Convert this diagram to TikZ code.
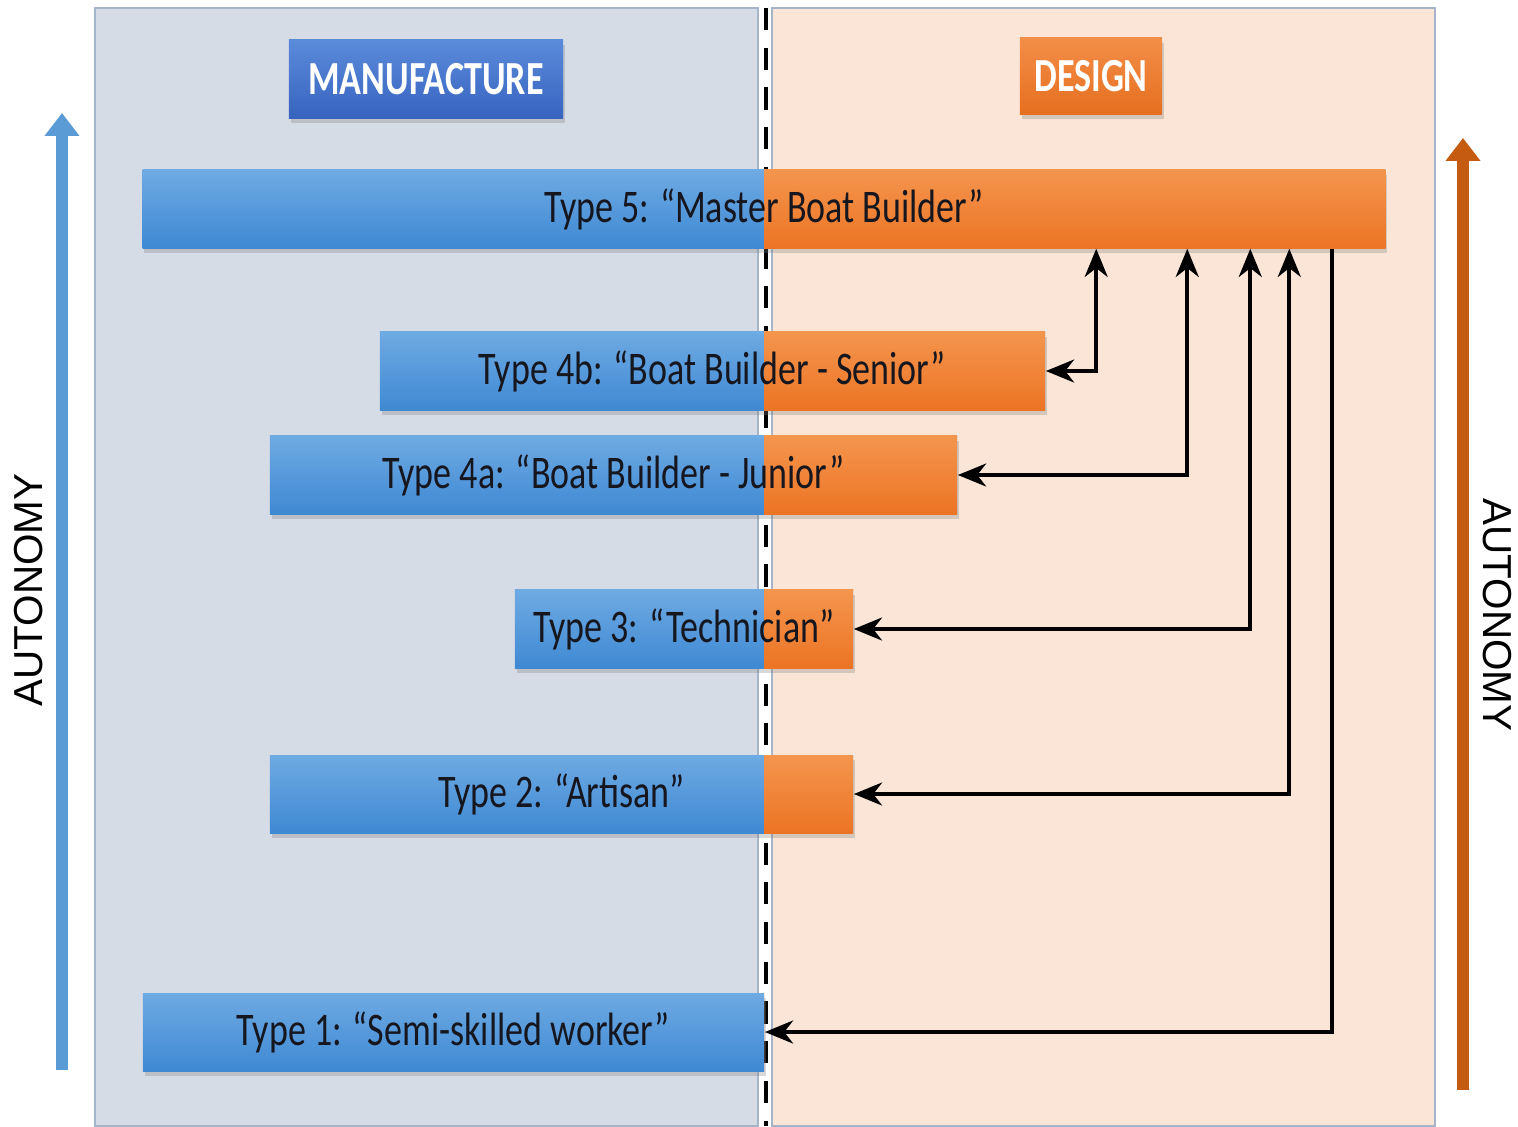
\documentclass[tikz,border=0pt]{standalone}
\usepackage{fontspec}
\usepackage{xcolor}
\usetikzlibrary{arrows.meta,calc,positioning,shadows}

\newfontfamily\barfont{Carlito}[FakeStretch=0.77]
\newfontfamily\headfont{Carlito}[FakeStretch=0.76]
\newfontfamily\sidefont{Liberation Sans}

\definecolor{panelL}{HTML}{D6DCE5}
\definecolor{panelR}{HTML}{FBE5D6}
\definecolor{panelEdge}{HTML}{A5B4C8}
\definecolor{blueTop}{HTML}{6EAAE3}
\definecolor{blueBot}{HTML}{3F89D3}
\definecolor{orgTop}{HTML}{F4954D}
\definecolor{orgBot}{HTML}{EC7424}
\definecolor{headBlueTop}{HTML}{5B8BDB}
\definecolor{headBlueBot}{HTML}{3763BF}
\definecolor{headOrgTop}{HTML}{F38E47}
\definecolor{headOrgBot}{HTML}{E66F20}
\definecolor{autoBlue}{HTML}{5B9BD5}
\definecolor{autoBrown}{HTML}{C55A11}
\definecolor{barText}{HTML}{16161F}

\begin{document}
\begin{tikzpicture}[x=0.01cm, y=-0.01cm,
    link/.style = {line width=1.2pt, >={Stealth[length=8pt,width=6.5pt,inset=2.5pt]}},
    autonomy/.style = {line width=3.4pt, -{Triangle[length=6.5pt,width=9.5pt]}}]
					\tikzset{bar/.style={inner sep=0pt, minimum height=0.78cm, top color=blueTop, bottom color=blueBot, text=barText,
							font=\barfont\fontsize{13.3}{15}\selectfont,
							drop shadow={opacity=0.3, shadow xshift=0.5pt, shadow yshift=-1.3pt},
							path picture={\shade[top color=orgTop, bottom color=orgBot] (mid |- path picture bounding box.north) rectangle (path picture bounding box.south east);}}}
					\tikzset{head/.style={inner sep=0pt, text=white, font=\headfont\bfseries\fontsize{13.5}{15}\selectfont,
							drop shadow={opacity=0.3, shadow xshift=0.6pt, shadow yshift=-1.4pt}}}

					\useasboundingbox[fill=white] (0,0) rectangle (1518,1126);

					% Panels
					\filldraw[fill=panelL, draw=panelEdge, thin] (95,8) rectangle (758,1126);
					\filldraw[fill=panelR, draw=panelEdge, thin] (772,8) rectangle (1435,1126);
					\draw[line width=1.3pt, dash pattern=on 6.3pt off 5pt] (766,8) -- (766,1126);
					\coordinate (mid) at (764,0);

					% Types
					\node[bar, minimum width=12.42cm] (bar5) at (764,209) {Type 5: “Master Boat Builder”};
					\node[bar, minimum width=6.65cm] (bar4b) at (712.5,371) {Type 4b: “Boat Builder - Senior”};
					\node[bar, minimum width=6.87cm] (bar4a) at (613.5,475) {Type 4a: “Boat Builder - Junior”};
					\node[bar, minimum width=3.38cm] (bar3) at (684,629) {Type 3: “Technician”};
					\node[bar, minimum width=5.83cm] (bar2) at (561.5,794) {Type 2: “Artisan”};
					\node[bar, minimum width=6.21cm] (bar1) at (453.5,1032) {Type 1: “Semi-skilled worker”};

					% Links
					\draw[link,<->] (bar4b.east) -| ([xshift=3.32cm]bar5.south);
					\draw[link,<->] (bar4a.east) -| ([xshift=4.23cm]bar5.south);
					\draw[link,<->] (bar3.east) -| ([xshift=4.86cm]bar5.south);
					\draw[link,<->] (bar2.east) -| ([xshift=5.25cm]bar5.south);
					\draw[link,->] ([xshift=5.68cm]bar5.south) |- (bar1.east);

					% Headers
					\node[head, minimum width=2.74cm, minimum height=0.78cm, top color=headBlueTop, bottom color=headBlueBot] (manu) at (426,79) {MANUFACTURE};
					\node[head, minimum width=1.42cm, minimum height=0.76cm, top color=headOrgTop, bottom color=headOrgBot] (design) at (1091,76) {DESIGN};

					% Autonomy
					\coordinate (lowL) at (62,1070);
					\coordinate (topL) at (62,113);
					\coordinate (lowR) at (1463,1090);
					\coordinate (topR) at (1463,138);
					\draw[autonomy, autoBlue] (lowL) -- (topL);
					\draw[autonomy, autoBrown] (lowR) -- (topR);
					\node[rotate=90, font=\sidefont\fontsize{11.5}{13}\selectfont] (autoL) at (29,590) {AUTONOMY};
					\node[rotate=-90, font=\sidefont\fontsize{11.5}{13}\selectfont] (autoR) at (1497,615) {AUTONOMY};

				\end{tikzpicture}
\end{document}
